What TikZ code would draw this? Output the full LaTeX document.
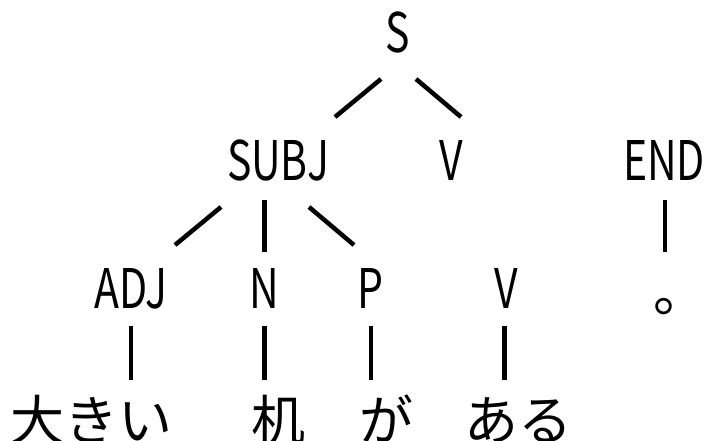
\documentclass[tikz,border=0pt]{standalone}
\usepackage{fontspec}
\newfontfamily\jpfont{Noto Sans CJK JP}
\newfontfamily\latfont[FakeStretch=0.75]{Noto Sans CJK JP}
\tikzset{
  lab/.style={inner sep=0pt, anchor=base, font=\latfont\fontsize{54.6}{60}\selectfont},
  word/.style={inner sep=0pt, anchor=base, font=\jpfont\fontsize{54}{60}\selectfont},
  branch/.style={line width=4.5pt, black},
}
\begin{document}
\begin{tikzpicture}[x=1pt,y=-1pt]
\useasboundingbox (0,0) rectangle (708,440);
% labels
\node[lab] (S) at (398,52) {S};
\node[lab] (SUBJ) at (278,180) {SUBJ};
\node[lab] (V1) at (451,180) {V};
\node[lab] (END) at (664,180) {END};
\node[lab] (ADJ) at (131,308) {ADJ};
\node[lab] (N) at (264,308) {N};
\node[lab] (P) at (370,308) {P};
\node[lab] (V2) at (506,308) {V};
\node[word] (dot) at (680,311) {。};
\node[word] (w1) at (91,440) {大きい};
\node[word] (w2) at (278,440) {机};
\node[word] (w3) at (386,440) {が};
\node[word] (w4) at (518,440) {ある};
% connector end points
\coordinate (a1) at (381,79);  \coordinate (a2) at (335,117);
\coordinate (b1) at (416,79);  \coordinate (b2) at (461,117);
\coordinate (c1) at (221,207); \coordinate (c2) at (175,245);
\coordinate (d1) at (264.5,200); \coordinate (d2) at (264.5,252);
\coordinate (e1) at (309,207); \coordinate (e2) at (354,245);
\coordinate (f1) at (665,200); \coordinate (f2) at (665,252);
\coordinate (g1) at (131,326); \coordinate (g2) at (131,380);
\coordinate (h1) at (264.5,326); \coordinate (h2) at (264.5,380);
\coordinate (i1) at (371,326); \coordinate (i2) at (371,380);
\coordinate (j1) at (504.5,326); \coordinate (j2) at (504.5,380);
\draw[branch] (a1) -- (a2);
\draw[branch] (b1) -- (b2);
\draw[branch] (c1) -- (c2);
\draw[branch] (d1) -- (d2);
\draw[branch] (e1) -- (e2);
\draw[branch] (f1) -- (f2);
\draw[branch] (g1) -- (g2);
\draw[branch] (h1) -- (h2);
\draw[branch] (i1) -- (i2);
\draw[branch] (j1) -- (j2);
\end{tikzpicture}
\end{document}
